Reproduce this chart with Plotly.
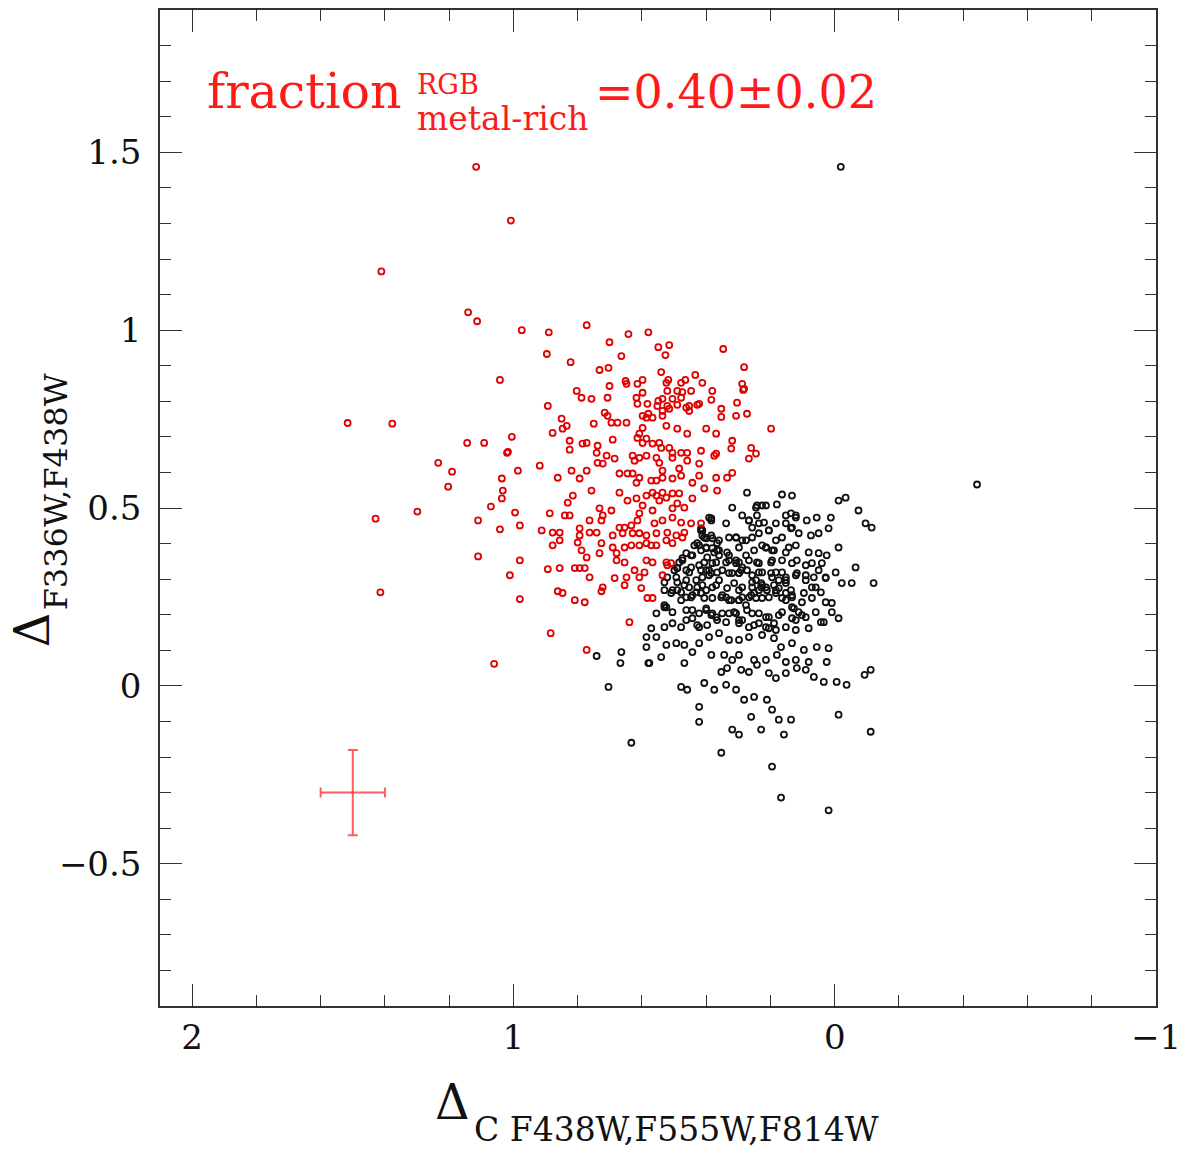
import plotly.graph_objects as go

# ---------------- data ----------------
red_pts = [
    (1.116, 1.459), (1.008, 1.308), (1.411, 1.165), (1.141, 1.050), (1.113, 1.025),
    (1.516, 0.739), (1.377, 0.737), (1.144, 0.683), (1.091, 0.683), (1.005, 0.700),
    (1.017, 0.658), (1.234, 0.627), (1.191, 0.602), (1.203, 0.560), (1.070, 0.504),
    (1.299, 0.490), (1.429, 0.470), (1.110, 0.465), (1.042, 0.440), (1.110, 0.364),
    (1.414, 0.263), (1.060, 0.062), (0.884, 0.148), (0.772, 0.101),
    (0.974, 1.000), (0.890, 0.994), (0.772, 1.014), (0.642, 0.989), (0.580, 0.994),
    (0.701, 0.966), (0.896, 0.933), (0.664, 0.927), (0.549, 0.952), (0.515, 0.958),
    (0.527, 0.930), (0.347, 0.947), (0.822, 0.910), (1.042, 0.860), (0.732, 0.888),
    (0.704, 0.894), (0.540, 0.882), (0.434, 0.874), (0.282, 0.896), (0.651, 0.857),
    (0.598, 0.860), (0.518, 0.860), (0.465, 0.860), (0.285, 0.832), (0.549, 0.801),
    (0.521, 0.829), (0.490, 0.829), (0.474, 0.826), (0.462, 0.782), (0.428, 0.790),
    (0.384, 0.804), (0.580, 0.765), (0.515, 0.779), (0.750, 0.737),
    (0.701, 0.843), (0.648, 0.849), (0.614, 0.849), (0.524, 0.852), (0.478, 0.852),
    (0.412, 0.852), (0.288, 0.849), (0.803, 0.829), (0.788, 0.810), (0.757, 0.807),
    (0.707, 0.810), (0.598, 0.824), (0.617, 0.810), (0.583, 0.793), (0.536, 0.807),
    (0.505, 0.807), (0.478, 0.810), (0.447, 0.829), (0.381, 0.829), (0.282, 0.835),
    (0.893, 0.787), (0.614, 0.793), (0.552, 0.787), (0.521, 0.787), (0.490, 0.790),
    (0.453, 0.787), (0.422, 0.793), (0.353, 0.779), (0.536, 0.773), (0.536, 0.759),
    (0.453, 0.773), (0.304, 0.796), (0.353, 0.756), (0.307, 0.759), (0.273, 0.765),
    (0.850, 0.751), (0.834, 0.731), (0.847, 0.723), (0.716, 0.768), (0.695, 0.740),
    (0.676, 0.740), (0.648, 0.740), (0.707, 0.759), (0.598, 0.759), (0.586, 0.754),
    (0.567, 0.754), (0.598, 0.725), (0.608, 0.709), (0.586, 0.695), (0.524, 0.731),
    (0.490, 0.723), (0.459, 0.709), (0.400, 0.723), (0.369, 0.709), (0.319, 0.689),
    (0.198, 0.723), (0.878, 0.711), (0.825, 0.689), (0.785, 0.681), (0.772, 0.683),
    (0.738, 0.675), (0.691, 0.692), (0.614, 0.697), (0.598, 0.683), (0.567, 0.681),
    (0.546, 0.683), (0.540, 0.669), (0.515, 0.669), (0.505, 0.655), (0.478, 0.655),
    (0.459, 0.655), (0.416, 0.661), (0.369, 0.653), (0.322, 0.667), (0.260, 0.669),
    (0.245, 0.653), (0.267, 0.639), (1.020, 0.655), (0.825, 0.664), (0.741, 0.655),
    (0.710, 0.647), (0.738, 0.627), (0.722, 0.625), (0.685, 0.639), (0.629, 0.647),
    (0.608, 0.641), (0.623, 0.633), (0.586, 0.647), (0.555, 0.641), (0.546, 0.627),
    (0.505, 0.641), (0.459, 0.633), (0.422, 0.625), (0.375, 0.647), (0.918, 0.619),
    (0.986, 0.605), (0.862, 0.585), (0.819, 0.605), (0.794, 0.583), (0.772, 0.605),
    (0.670, 0.597), (0.645, 0.597), (0.629, 0.597), (0.608, 0.585), (0.617, 0.571),
    (0.571, 0.577), (0.555, 0.577), (0.536, 0.605), (0.536, 0.585), (0.505, 0.583),
    (0.484, 0.611), (0.478, 0.591), (0.443, 0.571), (0.422, 0.591), (0.369, 0.585),
    (0.335, 0.585), (0.319, 0.599), (1.036, 0.583), (1.033, 0.549), (1.036, 0.527),
    (0.757, 0.549), (0.815, 0.535), (0.831, 0.515), (0.670, 0.543), (0.645, 0.521),
    (0.617, 0.527), (0.586, 0.535), (0.567, 0.543), (0.555, 0.535), (0.536, 0.543),
    (0.546, 0.521), (0.524, 0.529), (0.505, 0.541), (0.484, 0.541), (0.443, 0.527),
    (0.406, 0.555), (0.366, 0.549), (0.732, 0.499), (0.722, 0.479), (0.695, 0.493),
    (0.598, 0.507), (0.567, 0.493), (0.608, 0.485), (0.614, 0.465), (0.561, 0.457),
    (0.536, 0.465), (0.505, 0.499), (0.490, 0.513), (0.468, 0.501), (0.505, 0.473),
    (0.478, 0.459), (0.447, 0.457), (0.416, 0.457), (0.887, 0.485), (0.840, 0.479),
    (0.825, 0.479), (0.995, 0.487), (0.980, 0.451), (0.912, 0.437), (0.878, 0.431),
    (0.856, 0.431), (0.794, 0.423), (0.763, 0.431), (0.741, 0.431), (0.763, 0.465),
    (0.726, 0.465), (0.794, 0.443), (0.691, 0.423), (0.670, 0.445), (0.654, 0.445),
    (0.633, 0.451), (0.660, 0.429), (0.629, 0.429), (0.608, 0.429), (0.586, 0.423),
    (0.555, 0.429), (0.521, 0.431), (0.493, 0.423), (0.468, 0.431), (0.524, 0.409),
    (0.505, 0.401), (0.474, 0.417), (0.878, 0.395), (0.856, 0.409), (0.800, 0.403),
    (0.726, 0.401), (0.691, 0.389), (0.654, 0.389), (0.633, 0.395), (0.608, 0.395),
    (0.586, 0.401), (0.571, 0.395), (0.555, 0.395), (0.788, 0.381), (0.732, 0.373),
    (0.679, 0.373), (0.980, 0.353), (0.893, 0.328), (0.856, 0.331), (0.809, 0.331),
    (0.794, 0.331), (0.778, 0.331), (0.772, 0.361), (0.679, 0.353), (0.654, 0.347),
    (0.623, 0.325), (0.592, 0.319), (0.586, 0.353), (0.567, 0.347), (0.524, 0.347),
    (0.521, 0.339), (0.509, 0.345), (1.011, 0.311), (0.763, 0.305), (0.685, 0.303),
    (0.648, 0.305), (0.608, 0.305), (0.536, 0.311), (0.862, 0.266), (0.847, 0.261),
    (0.726, 0.266), (0.722, 0.277), (0.654, 0.283), (0.602, 0.275), (0.583, 0.247),
    (0.567, 0.247), (0.980, 0.244), (0.809, 0.241), (0.778, 0.235), (0.639, 0.179),
]

black_pts = [
    (-0.019, 1.459), (-0.443, 0.566),
    (0.273, 0.543), (0.164, 0.538), (0.133, 0.535), (-0.012, 0.521), (-0.034, 0.529),
    (-0.074, 0.493), (-0.096, 0.457), (-0.115, 0.445), (0.319, 0.501), (0.242, 0.507),
    (0.214, 0.507), (0.180, 0.510), (0.384, 0.471), (0.338, 0.457), (0.288, 0.479),
    (0.267, 0.465), (0.236, 0.457), (0.183, 0.457), (0.152, 0.479), (0.121, 0.479),
    (0.087, 0.465), (0.056, 0.473), (0.012, 0.473), (0.019, 0.443), (0.412, 0.437),
    (0.384, 0.423), (0.360, 0.409), (0.307, 0.417), (0.276, 0.409), (0.236, 0.429),
    (0.205, 0.437), (0.164, 0.417), (0.136, 0.443), (0.112, 0.429), (0.074, 0.423),
    (0.050, 0.429), (-0.012, 0.389), (0.428, 0.401), (0.400, 0.387), (0.366, 0.381),
    (0.335, 0.375), (0.298, 0.389), (0.251, 0.381), (0.214, 0.389), (0.189, 0.381),
    (0.152, 0.375), (0.121, 0.395), (0.081, 0.375), (0.050, 0.373), (0.025, 0.367),
    (0.474, 0.359), (0.443, 0.367), (0.406, 0.347), (0.381, 0.345), (0.338, 0.347),
    (0.298, 0.347), (0.267, 0.353), (0.236, 0.345), (0.198, 0.347), (0.164, 0.353),
    (0.118, 0.353), (0.090, 0.339), (0.040, 0.345), (-0.065, 0.333), (0.490, 0.331),
    (0.493, 0.305), (0.453, 0.319), (0.416, 0.325), (0.384, 0.317), (0.350, 0.325),
    (0.319, 0.317), (0.291, 0.325), (0.257, 0.311), (0.226, 0.319), (0.183, 0.319),
    (0.152, 0.305), (0.121, 0.311), (0.090, 0.311), (0.065, 0.305), (0.028, 0.303),
    (-0.003, 0.319), (-0.022, 0.289), (-0.053, 0.289), (-0.121, 0.289), (0.530, 0.291),
    (0.462, 0.297), (0.428, 0.277), (0.400, 0.269), (0.369, 0.283), (0.335, 0.275),
    (0.298, 0.269), (0.257, 0.277), (0.229, 0.277), (0.211, 0.269), (0.174, 0.275),
    (0.136, 0.269), (0.096, 0.261), (0.059, 0.277), (0.043, 0.263), (0.530, 0.269),
    (0.490, 0.269), (0.443, 0.255), (0.406, 0.247), (0.353, 0.249), (0.322, 0.241),
    (0.288, 0.249), (0.245, 0.247), (0.205, 0.249), (0.164, 0.247), (0.133, 0.255),
    (0.102, 0.235), (0.071, 0.247), (0.028, 0.235), (0.009, 0.233), (0.530, 0.227),
    (0.505, 0.207), (0.555, 0.204), (0.478, 0.241), (0.443, 0.213), (0.422, 0.204),
    (0.384, 0.199), (0.350, 0.204), (0.313, 0.207), (0.273, 0.213), (0.236, 0.204),
    (0.205, 0.193), (0.164, 0.207), (0.127, 0.218), (0.102, 0.199), (0.059, 0.207),
    (0.034, 0.179), (0.009, 0.207), (-0.012, 0.190), (0.571, 0.162), (0.530, 0.165),
    (0.505, 0.176), (0.462, 0.185), (0.428, 0.171), (0.397, 0.171), (0.366, 0.185),
    (0.338, 0.179), (0.298, 0.176), (0.251, 0.171), (0.214, 0.165), (0.189, 0.176),
    (0.152, 0.165), (0.121, 0.157), (0.081, 0.162), (0.043, 0.179), (0.586, 0.137),
    (0.586, 0.109), (0.555, 0.137), (0.524, 0.115), (0.493, 0.120), (0.468, 0.115),
    (0.422, 0.120), (0.391, 0.137), (0.360, 0.148), (0.329, 0.129), (0.298, 0.129),
    (0.267, 0.137), (0.226, 0.143), (0.189, 0.134), (0.167, 0.109), (0.133, 0.120),
    (0.096, 0.101), (0.056, 0.109), (0.019, 0.106), (0.577, 0.064), (0.540, 0.081),
    (0.468, 0.064), (0.443, 0.095), (0.384, 0.087), (0.344, 0.087), (0.319, 0.073),
    (0.298, 0.087), (0.251, 0.073), (0.214, 0.073), (0.180, 0.087), (0.152, 0.067),
    (0.121, 0.073), (0.081, 0.067), (0.025, 0.067), (0.353, 0.039), (0.335, 0.050),
    (0.291, 0.045), (0.267, 0.039), (0.242, 0.059), (0.205, 0.036), (0.183, 0.022),
    (0.152, 0.036), (0.118, 0.050), (0.090, 0.045), (0.065, 0.025), (0.034, 0.011),
    (-0.006, 0.011), (-0.037, 0.003), (-0.112, 0.045), (-0.093, 0.031), (0.478, -0.003),
    (0.459, -0.011), (0.406, 0.008), (0.375, -0.011), (0.338, 0.003), (0.307, -0.011),
    (0.282, -0.039), (0.251, -0.031), (0.211, -0.039), (0.195, -0.067), (0.260, -0.087),
    (0.174, -0.095), (0.136, -0.095), (0.422, -0.059), (0.422, -0.101), (0.319, -0.123),
    (0.298, -0.137), (0.229, -0.123), (0.158, -0.137), (-0.012, -0.081), (-0.112, -0.129),
    (0.704, -0.003), (0.633, -0.160), (0.664, 0.095), (0.667, 0.064), (0.580, 0.064),
    (0.353, -0.188), (0.195, -0.227), (0.167, -0.314), (0.019, -0.350), (0.741, 0.084),
    (0.242, 0.479), (0.391, 0.473), (0.220, 0.459), (0.416, 0.443), (0.406, 0.417),
    (0.381, 0.415), (0.366, 0.401), (0.329, 0.417), (0.257, 0.417), (0.226, 0.395),
    (0.183, 0.409), (0.143, 0.389), (0.437, 0.395), (0.416, 0.381), (0.397, 0.361),
    (0.360, 0.381), (0.329, 0.367), (0.307, 0.353), (0.276, 0.367), (0.242, 0.347),
    (0.195, 0.353), (0.133, 0.345), (0.462, 0.373), (0.484, 0.347), (0.447, 0.333),
    (0.422, 0.339), (0.391, 0.325), (0.366, 0.319), (0.329, 0.317), (0.298, 0.317),
    (0.273, 0.325), (0.236, 0.319), (0.198, 0.317), (0.164, 0.319), (0.118, 0.317),
    (0.499, 0.325), (0.521, 0.305), (0.490, 0.291), (0.468, 0.283), (0.431, 0.297),
    (0.412, 0.283), (0.381, 0.277), (0.360, 0.297), (0.313, 0.289), (0.288, 0.277),
    (0.257, 0.291), (0.226, 0.283), (0.189, 0.283), (0.152, 0.297), (0.509, 0.261),
    (0.478, 0.263), (0.447, 0.249), (0.416, 0.261), (0.381, 0.247), (0.338, 0.249),
    (0.298, 0.241), (0.260, 0.255), (0.226, 0.247), (0.183, 0.261), (0.152, 0.241),
    (0.524, 0.221), (0.462, 0.213), (0.443, 0.190), (0.400, 0.213), (0.369, 0.193),
    (0.329, 0.204), (0.298, 0.185), (0.257, 0.204), (0.214, 0.193), (0.174, 0.199),
    (0.133, 0.190), (0.478, 0.165), (0.422, 0.165),
    (0.384, 0.465), (0.416, 0.437), (0.412, 0.423), (0.400, 0.415), (0.422, 0.395),
    (0.400, 0.389), (0.381, 0.387), (0.375, 0.375), (0.360, 0.367), (0.369, 0.347),
    (0.447, 0.367), (0.474, 0.353), (0.490, 0.331), (0.462, 0.325), (0.400, 0.325),
    (0.391, 0.311), (0.412, 0.305), (0.329, 0.353), (0.307, 0.345), (0.288, 0.333),
    (0.298, 0.317), (0.245, 0.297), (0.229, 0.289), (0.214, 0.277), (0.236, 0.269),
    (0.251, 0.261), (0.267, 0.249), (0.298, 0.241), (0.276, 0.227), (0.195, 0.305),
    (0.174, 0.297), (0.152, 0.289), (0.183, 0.269), (0.133, 0.221), (0.112, 0.207),
    (0.090, 0.193), (0.121, 0.185), (0.205, 0.437), (0.214, 0.389), (0.195, 0.381),
    (0.152, 0.457), (0.133, 0.445), (0.245, 0.501), (0.226, 0.507), (0.307, 0.417),
    (0.288, 0.409), (0.350, 0.255), (0.329, 0.241), (0.400, 0.218), (0.381, 0.204),
    (0.307, 0.204), (0.288, 0.185), (0.267, 0.165), (0.236, 0.176), (0.205, 0.162),
    (0.183, 0.157), (0.071, 0.345), (0.050, 0.325), (0.028, 0.305), (0.090, 0.297),
    (0.071, 0.277), (0.453, 0.277), (0.431, 0.263), (0.462, 0.249), (0.505, 0.269),
    (0.530, 0.221), (0.152, 0.261), (0.133, 0.249), (0.267, 0.465), (0.257, 0.445),
    (0.136, 0.485), (0.121, 0.473),
]

err_center_x = [1.5]
err_center_y = [-0.3]
err_dx = [0.1]
err_dy = [0.12]

x_tickvals = [2, 1, 0, -1]
x_ticktext = ["2", "1", "0", "\u22121"]
y_tickvals = [-0.5, 0, 0.5, 1, 1.5]
y_ticktext = ["\u22120.5", "0", "0.5", "1", "1.5"]

FONT = "DejaVu Serif"
RED = "#e00000"
TXT_RED = "#ff1a1a"

fig = go.Figure()
fig.add_trace(go.Scatter(
    x=[p[0] for p in black_pts], y=[p[1] for p in black_pts], mode="markers",
    marker=dict(symbol="circle-open", size=6, color="#111111", line=dict(width=1.8)),
    hoverinfo="skip"))
fig.add_trace(go.Scatter(
    x=[p[0] for p in red_pts], y=[p[1] for p in red_pts], mode="markers",
    marker=dict(symbol="circle-open", size=6, color=RED, line=dict(width=1.8)),
    hoverinfo="skip"))
fig.add_trace(go.Scatter(
    x=err_center_x, y=err_center_y, mode="markers",
    marker=dict(size=1, color="rgba(0,0,0,0)"),
    error_x=dict(type="data", array=err_dx, color="rgba(255,40,40,0.75)", thickness=2, width=5),
    error_y=dict(type="data", array=err_dy, color="rgba(255,40,40,0.75)", thickness=2, width=5),
    hoverinfo="skip"))

axis_common = dict(
    showline=True, linecolor="#333333", linewidth=1.5, mirror="ticks",
    ticks="inside", tickcolor="#333333", tickwidth=1.3, ticklen=22,
    showgrid=False, zeroline=False,
    tickfont=dict(family=FONT, size=34, color="#111111"),
)
fig.update_xaxes(range=[2.1, -1.0], tickvals=x_tickvals, ticktext=x_ticktext,
                 minor=dict(dtick=0.2, tick0=0, ticks="inside", ticklen=11, tickwidth=1.2,
                            tickcolor="#333333", showgrid=False),
                 ticklabelstandoff=0, **axis_common)
fig.update_yaxes(range=[-0.9, 1.9], tickvals=y_tickvals, ticktext=y_ticktext,
                 minor=dict(dtick=0.1, tick0=0, ticks="inside", ticklen=11, tickwidth=1.2,
                            tickcolor="#333333", showgrid=False),
                 ticklabelstandoff=10, **axis_common)

W, H = 1189, 1151
L, R, T, B = 160, 1159, 8, 1006


def px(xp):
    return (xp - L) / (R - L)


def py(yp):
    return (B - yp) / (B - T)


def ann(text, xp, yp, size, color="#111111", xanchor="left", angle=0):
    fig.add_annotation(text=text, x=px(xp), y=py(yp), xref="paper", yref="paper",
                       xanchor=xanchor, yanchor="middle", showarrow=False, textangle=angle,
                       borderpad=0, font=dict(family=FONT, size=size, color=color))


# red label
ann("fraction", 206, 90, 49, color=TXT_RED)
ann("RGB", 417, 83, 27, color=TXT_RED)
ann("metal-rich", 417, 117, 33, color=TXT_RED)
ann("=0.40\u00b10.02", 595, 90, 46, color=TXT_RED)

# axis titles
ann("\u0394", 453, 1102, 48, xanchor="center")
ann("C F438W,F555W,F814W", 474, 1130, 33)
ann("\u0394", 31, 629, 48, xanchor="center", angle=-90)
ann("F336W,F438W", 56, 491, 32, xanchor="center", angle=-90)

fig.update_layout(width=W, height=H, margin=dict(l=L, r=W - R, t=T, b=H - B),
                  plot_bgcolor="white", paper_bgcolor="white", showlegend=False)

fig.write_html("out.html")
